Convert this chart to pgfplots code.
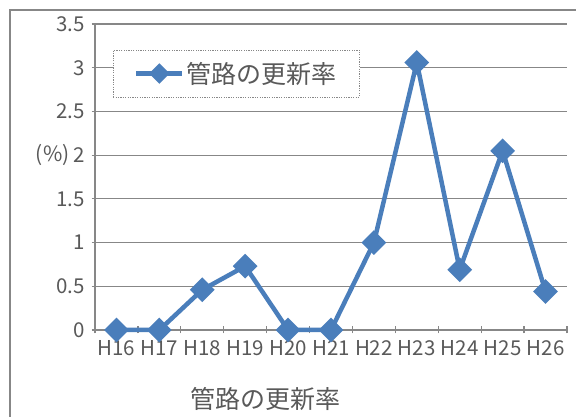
\documentclass[border=0pt]{standalone}
\usepackage{fontspec}
\setmainfont{Noto Sans CJK JP}
\usepackage{pgfplots}
\pgfplotsset{compat=1.18}
\definecolor{serblue}{HTML}{4A7EBB}
\definecolor{txtgray}{HTML}{595959}
\definecolor{gridgray}{HTML}{878787}
\begin{document}
\begin{tikzpicture}
\useasboundingbox (0pt,0pt) rectangle (576pt,417pt);
% outer chart frame (cropped on right and bottom)
\draw[gridgray, line width=1.5pt] (10pt,0pt) -- (10pt,407pt) -- (576pt,407pt);
\begin{axis}[
    at={(95pt,87pt)}, anchor=south west,
    width=472pt, height=306pt, scale only axis,
    xmin=-0.5, xmax=10.5,
    ymin=0, ymax=3.5,
    xtick={0,...,10},
    xticklabels={H16,H17,H18,H19,H20,H21,H22,H23,H24,H25,H26},
    minor xtick={-0.5,0.5,...,10.5},
    ytick={0,0.5,...,3.5},
    major x tick style={draw=none},
    tick align=outside,
    major tick length=7pt, minor tick length=7pt,
    tick style={gridgray, line width=1.2pt},
    axis x line=bottom, axis y line=left,
    axis line style={-, gridgray, line width=1.2pt},
    ymajorgrids, grid style={gridgray, line width=1.2pt},
    /pgf/number format/assume math mode=true,
    ticklabel style={font=\fontsize{20.5}{22}\selectfont, text=txtgray},
    xticklabel style={yshift=-3pt},
    yticklabel style={xshift=-3pt},
    xlabel={管路の更新率},
    xlabel style={font=\fontsize{25}{28}\selectfont, text=txtgray,
        at={(axis description cs:0.362,0)}, anchor=center, yshift=-69pt},
    ylabel={(\%)},
    ylabel style={font=\fontsize{21}{22}\selectfont, text=txtgray, rotate=-90,
        at={(axis description cs:0,0.571)}, anchor=east, xshift=-22pt},
    legend style={at={(axis description cs:0.038,0.915)}, anchor=north west,
        draw=gridgray, dash pattern=on 1.2pt off 1.2pt, fill=white,
        font=\fontsize{25}{28}\selectfont, text=txtgray,
        inner xsep=21pt, inner ysep=10pt},
    legend image code/.code={
        \draw[mark repeat=2,mark phase=2,#1,solid,mark size=5pt] plot coordinates {(0pt,0pt) (23pt,0pt) (46pt,0pt)};},
    clip=false,
]
\addplot[serblue, line width=4.5pt, mark=square*, mark size=6.5pt,
    mark options={rotate=45, solid}] coordinates {
    (0,0) (1,0) (2,0.46) (3,0.73) (4,0) (5,0) (6,1.0) (7,3.06) (8,0.69) (9,2.05) (10,0.44)};
\addlegendentry{管路の更新率}
\end{axis}
\end{tikzpicture}
\end{document}
